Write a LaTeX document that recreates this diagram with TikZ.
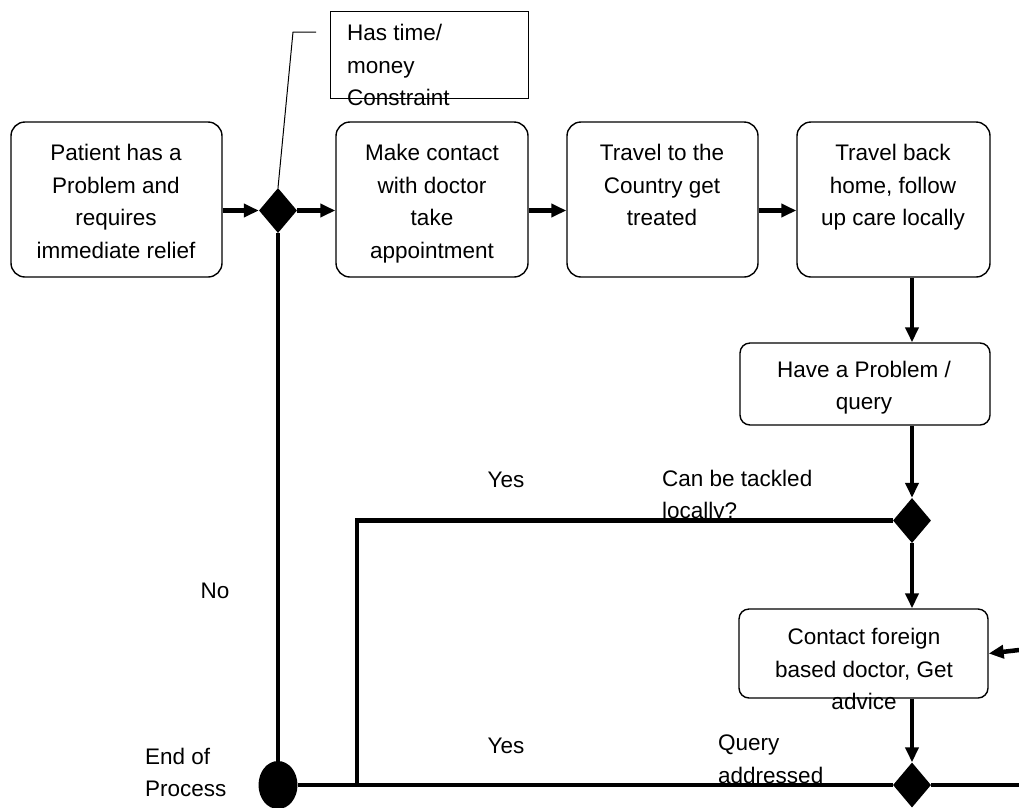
\documentclass[tikz,border=0pt]{standalone}
\usepackage{fontspec}
\setmainfont{Liberation Sans}
\usetikzlibrary{arrows.meta,shapes.geometric}

\tikzset{
  box/.style={draw, line width=1.4pt, rounded corners=14pt, inner sep=0pt},
  smallbox/.style={draw, line width=1.4pt, rounded corners=10pt, inner sep=0pt},
  txt/.style={font=\fontsize{22.5}{32.5}\selectfont, align=center, inner sep=0pt, yshift=-4pt,
    execute at begin node=\strut, execute at end node=\strut},
  ltxt/.style={txt, align=left, anchor=west},
  decision/.style={diamond, fill=black, inner sep=0pt, minimum width=38pt, minimum height=45pt, aspect=0.85},
  flow/.style={line width=4.5pt, -{Triangle[length=15pt,width=13pt]}},
  wire/.style={line width=4.5pt},
}

\begin{document}
\begin{tikzpicture}[x=1pt,y=-1pt]
\useasboundingbox (0,0) rectangle (1019,807);

% process boxes
\node[box, minimum width=211pt, minimum height=155pt] (b1) at (116.5,199.5) {};
\node[box, minimum width=192pt, minimum height=155pt] (b2) at (432,199.5) {};
\node[box, minimum width=191pt, minimum height=155pt] (b3) at (662.5,199.5) {};
\node[box, minimum width=193pt, minimum height=155pt] (b4) at (893.5,199.5) {};
\node[smallbox, minimum width=250pt, minimum height=82pt] (b5) at (865,384) {};
\node[smallbox, minimum width=249pt, minimum height=89pt] (b6) at (863.5,653.5) {};

\node[txt] at (116,202) {Patient has a\\Problem and\\requires\\immediate relief};
\node[txt] at (432,202) {Make contact\\with doctor\\take\\appointment};
\node[txt] at (662,186) {Travel to the\\Country get\\treated};
\node[txt] at (893,186) {Travel back\\home, follow\\up care locally};
\node[txt] at (864,386) {Have a Problem /\\query};
\node[txt] at (864,670) {Contact foreign\\based doctor, Get\\advice};

% decisions and end point
\node[decision] (d1) at (278,210.5) {};
\node[decision] (d2) at (912,520.5) {};
\node[decision] (d3) at (912,785) {};
\node[ellipse, fill=black, minimum width=39pt, minimum height=48pt, inner sep=0pt] (end) at (278,785) {};

% callout note
\node[draw, line width=1pt, minimum width=198pt, minimum height=87pt, inner sep=0pt] (note) at (429,54.5) {};
\node[ltxt] at (347,66) {Has time/\\money\\Constraint};
\coordinate (nk) at (293,32);
\draw[line width=1pt] (316,32) -- (nk) -- (d1.north);

% main flow
\draw[flow] (b1.east |- d1) -- (d1.west);
\draw[flow] (d1.east) -- (b2.west |- d1);
\draw[flow] (b2.east |- d1) -- (b3.west |- d1);
\draw[flow] (b3.east |- d1) -- (b4.west |- d1);
\draw[flow] (b4.south -| d2) -- (b5.north -| d2);
\draw[flow] (b5.south -| d2) -- (d2.north);
\draw[flow] (d2.south) -- (b6.north -| d2);
\draw[flow] (b6.south -| d2) -- (d3.north);
\coordinate (rin) at (1019,650);
\draw[flow] (rin) -- (b6.east);

% return paths to the end point
\coordinate (c1) at (357,520.5);
\coordinate (c2) at (357,785);
\draw[wire] (d2.west) -- (c1) -- (c2);
\draw[wire] (d1.south) -- (end.north);
\draw[wire] (end.east) -- (d3.west);
\coordinate (rout) at (1019,785);
\draw[wire] (d3.east) -- (rout);

% labels
\node[txt] at (506,477) {Yes};
\node[txt] at (506,743) {Yes};
\node[ltxt] at (662,495) {Can be tackled\\locally?};
\node[ltxt] at (718,760) {Query\\addressed};
\node[txt] at (215,588) {No};
\node[ltxt] at (145,773) {End of\\Process};
\end{tikzpicture}
\end{document}
